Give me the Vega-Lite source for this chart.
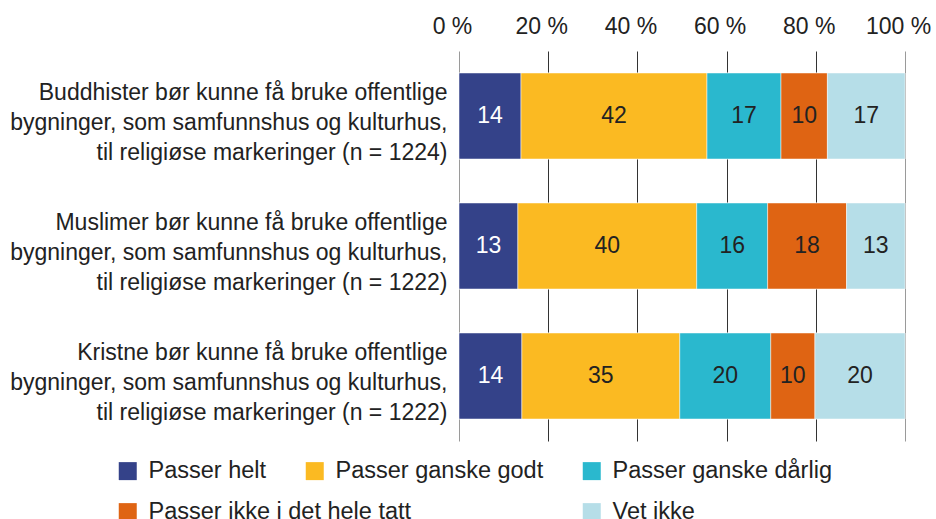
{
  "$schema": "https://vega.github.io/schema/vega-lite/v6.json",
  "autosize": {"type": "none"},
  "width": 446,
  "height": 390,
  "padding": {"left": 459, "top": 51, "right": 31, "bottom": 78},
  "background": "white",
  "config": {
    "view": {"stroke": null},
    "font": "Liberation Sans",
    "legend": {
      "labelFont": "Liberation Sans",
      "labelFontSize": 23.5,
      "labelColor": "#222222",
      "symbolType": "square",
      "symbolSize": 324,
      "symbolStrokeWidth": 0,
      "labelOffset": 9,
      "padding": 0,
      "labelLimit": 0
    }
  },
  "data": {
    "values": [
      {"q": "Buddhister bør kunne få bruke offentlige|bygninger, som samfunnshus og kulturhus,|til religiøse markeringer (n = 1224)", "cat": "Passer helt", "k": 1, "value": 13.9},
      {"q": "Buddhister bør kunne få bruke offentlige|bygninger, som samfunnshus og kulturhus,|til religiøse markeringer (n = 1224)", "cat": "Passer ganske godt", "k": 2, "value": 41.7},
      {"q": "Buddhister bør kunne få bruke offentlige|bygninger, som samfunnshus og kulturhus,|til religiøse markeringer (n = 1224)", "cat": "Passer ganske dårlig", "k": 3, "value": 16.6},
      {"q": "Buddhister bør kunne få bruke offentlige|bygninger, som samfunnshus og kulturhus,|til religiøse markeringer (n = 1224)", "cat": "Passer ikke i det hele tatt", "k": 4, "value": 10.4},
      {"q": "Buddhister bør kunne få bruke offentlige|bygninger, som samfunnshus og kulturhus,|til religiøse markeringer (n = 1224)", "cat": "Vet ikke", "k": 5, "value": 17.4},
      {"q": "Muslimer bør kunne få bruke offentlige|bygninger, som samfunnshus og kulturhus,|til religiøse markeringer (n = 1222)", "cat": "Passer helt", "k": 1, "value": 13.2},
      {"q": "Muslimer bør kunne få bruke offentlige|bygninger, som samfunnshus og kulturhus,|til religiøse markeringer (n = 1222)", "cat": "Passer ganske godt", "k": 2, "value": 40.1},
      {"q": "Muslimer bør kunne få bruke offentlige|bygninger, som samfunnshus og kulturhus,|til religiøse markeringer (n = 1222)", "cat": "Passer ganske dårlig", "k": 3, "value": 15.9},
      {"q": "Muslimer bør kunne få bruke offentlige|bygninger, som samfunnshus og kulturhus,|til religiøse markeringer (n = 1222)", "cat": "Passer ikke i det hele tatt", "k": 4, "value": 17.7},
      {"q": "Muslimer bør kunne få bruke offentlige|bygninger, som samfunnshus og kulturhus,|til religiøse markeringer (n = 1222)", "cat": "Vet ikke", "k": 5, "value": 13.1},
      {"q": "Kristne bør kunne få bruke offentlige|bygninger, som samfunnshus og kulturhus,|til religiøse markeringer (n = 1222)", "cat": "Passer helt", "k": 1, "value": 14.1},
      {"q": "Kristne bør kunne få bruke offentlige|bygninger, som samfunnshus og kulturhus,|til religiøse markeringer (n = 1222)", "cat": "Passer ganske godt", "k": 2, "value": 35.4},
      {"q": "Kristne bør kunne få bruke offentlige|bygninger, som samfunnshus og kulturhus,|til religiøse markeringer (n = 1222)", "cat": "Passer ganske dårlig", "k": 3, "value": 20.4},
      {"q": "Kristne bør kunne få bruke offentlige|bygninger, som samfunnshus og kulturhus,|til religiøse markeringer (n = 1222)", "cat": "Passer ikke i det hele tatt", "k": 4, "value": 9.9},
      {"q": "Kristne bør kunne få bruke offentlige|bygninger, som samfunnshus og kulturhus,|til religiøse markeringer (n = 1222)", "cat": "Vet ikke", "k": 5, "value": 20.2}
    ]
  },
  "encoding": {
    "y": {
      "field": "q",
      "type": "nominal",
      "sort": null,
      "scale": {"paddingInner": 0.338, "paddingOuter": 0.169},
      "axis": {
        "title": null,
        "domain": false,
        "ticks": false,
        "labelFont": "Liberation Sans",
        "labelFontSize": 23,
        "labelColor": "#222222",
        "labelLineHeight": 30,
        "labelPadding": 12,
        "labelLimit": 0,
        "labelAlign": "right",
        "labelBaseline": "middle",
        "labelOffset": -23,
        "labelExpr": "split(datum.label, '|')"
      }
    },
    "order": {"field": "k", "type": "quantitative"},
    "detail": {"field": "cat", "type": "nominal"}
  },
  "layer": [
    {
      "mark": {"type": "bar", "stroke": "#ffffff", "strokeWidth": 0.5},
      "encoding": {
        "x": {
          "field": "value",
          "type": "quantitative",
          "stack": "zero",
          "scale": {"domain": [0, 100], "nice": false},
          "axis": {
            "orient": "top",
            "title": null,
            "domain": false,
            "ticks": false,
            "values": [0, 20, 40, 60, 80, 100],
            "labelExpr": "datum.value + ' %'",
            "labelFont": "Liberation Sans",
            "labelFontSize": 23,
            "labelColor": "#222222",
            "labelPadding": 13,
            "labelOffset": -7,
            "labelFlush": false,
            "grid": true,
            "gridWidth": 1,
            "gridColor": {"condition": {"test": "datum.value == 0 || datum.value == 100", "value": "#9a9a9a"}, "value": "#333333"}
          }
        },
        "color": {
          "field": "cat",
          "type": "nominal",
          "scale": {
            "domain": ["Passer helt", "Passer ganske godt", "Passer ganske dårlig", "Passer ikke i det hele tatt", "Vet ikke"],
            "range": ["#344289", "#fbba22", "#2ab8ce", "#df6413", "#b6dee8"]
          },
          "legend": {
            "title": null,
            "orient": "none",
            "legendX": -343,
            "legendY": 408,
            "direction": "horizontal",
            "columns": 3,
            "columnPadding": 36,
            "values": ["Passer helt", "Passer ganske godt", "Passer ganske dårlig"]
          }
        }
      }
    },
    {
      "mark": {"type": "bar", "stroke": "#ffffff", "strokeWidth": 0.5},
      "encoding": {
        "x": {"field": "value", "type": "quantitative", "stack": "zero"},
        "fill": {
          "field": "cat",
          "type": "nominal",
          "scale": {
            "domain": ["Vet ikke", "Passer ikke i det hele tatt", "Passer ganske dårlig", "Passer ganske godt", "Passer helt"],
            "range": ["#b6dee8", "#df6413", "#2ab8ce", "#fbba22", "#344289"]
          },
          "legend": {
            "title": null,
            "orient": "none",
            "legendX": -343,
            "legendY": 449,
            "direction": "horizontal",
            "columns": 2,
            "columnPadding": 168,
            "values": ["Passer ikke i det hele tatt", "Vet ikke"]
          }
        }
      }
    },
    {
      "mark": {"type": "text", "font": "Liberation Sans", "fontSize": 23, "baseline": "middle", "align": "center"},
      "encoding": {
        "x": {"field": "value", "type": "quantitative", "stack": "zero", "bandPosition": 0.5},
        "text": {"field": "value", "type": "quantitative", "format": ".0f"},
        "color": {"condition": {"test": "datum.cat === 'Passer helt'", "value": "#ffffff"}, "value": "#222222"}
      }
    }
  ]
}
